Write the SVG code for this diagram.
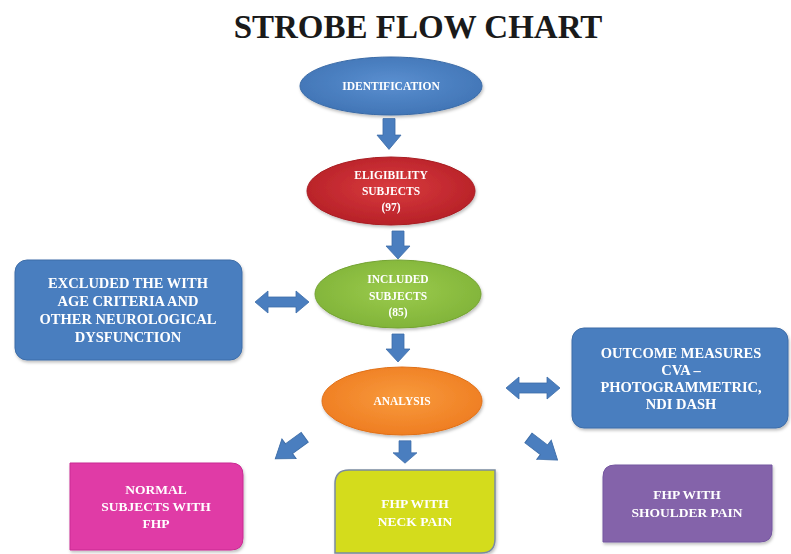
<svg xmlns="http://www.w3.org/2000/svg" width="791" height="554" viewBox="0 0 791 554">
<style>
.t{font-family:"Liberation Serif","Times New Roman",serif;font-weight:bold;fill:#fff;text-anchor:middle}
.s{font-size:11.5px}
.m{font-size:14.5px}
.b{font-size:13.5px}
.title{font-family:"Liberation Serif","Times New Roman",serif;font-weight:bold;font-size:33px;fill:#1a1a1a;text-anchor:middle}
.arr{fill:#4a7ebf;stroke:#3d6da8;stroke-width:0.8}
</style>
<defs>
<radialGradient id="gBlue" cx="50%" cy="45%" r="60%"><stop offset="0" stop-color="#5a8fd0"/><stop offset="1" stop-color="#3f73b4"/></radialGradient>
<radialGradient id="gRed" cx="50%" cy="45%" r="60%"><stop offset="0" stop-color="#d93a3e"/><stop offset="1" stop-color="#b41f26"/></radialGradient>
<radialGradient id="gGreen" cx="50%" cy="45%" r="60%"><stop offset="0" stop-color="#9bcb4c"/><stop offset="1" stop-color="#7fb238"/></radialGradient>
<radialGradient id="gOrange" cx="50%" cy="45%" r="60%"><stop offset="0" stop-color="#f89a3c"/><stop offset="1" stop-color="#ee7b20"/></radialGradient>
<filter id="sh" x="-10%" y="-10%" width="125%" height="130%"><feDropShadow dx="1" dy="2" stdDeviation="1.5" flood-color="#000" flood-opacity="0.25"/></filter>
<path id="down" d="M-6,-14 H6 V1 H12 L0,14 L-12,1 H-6 Z"/>
<path id="both" d="M-27,0 L-14,-11 V-5 H14 V-11 L27,0 L14,11 V5 H-14 V11 Z"/>
</defs>
<rect width="791" height="554" fill="#fff"/>
<text class="title" x="418" y="38">STROBE FLOW CHART</text>

<g id="identification" filter="url(#sh)">
<ellipse cx="391" cy="86" rx="91" ry="29" fill="url(#gBlue)" stroke="#3a6aa6" stroke-width="1"/>
<text class="t s" x="391" y="90">IDENTIFICATION</text>
</g>
<g id="eligibility" filter="url(#sh)">
<ellipse cx="391" cy="191" rx="84" ry="34" fill="url(#gRed)" stroke="#a81c22" stroke-width="1"/>
<text class="t s" x="391" y="179">ELIGIBILITY</text>
<text class="t s" x="391" y="195">SUBJECTS</text>
<text class="t s" x="391" y="211">(97)</text>
</g>
<g id="included" filter="url(#sh)">
<ellipse cx="398" cy="294" rx="83" ry="34" fill="url(#gGreen)" stroke="#74a332" stroke-width="1"/>
<text class="t s" x="398" y="283">INCLUDED</text>
<text class="t s" x="398" y="300">SUBJECTS</text>
<text class="t s" x="398" y="316">(85)</text>
</g>
<g id="analysis" filter="url(#sh)">
<ellipse cx="402" cy="401" rx="80" ry="34" fill="url(#gOrange)" stroke="#e07018" stroke-width="1"/>
<text class="t s" x="402" y="405">ANALYSIS</text>
</g>
<g id="excluded" filter="url(#sh)">
<rect x="15" y="260" width="227" height="100" rx="12" fill="#4a7ebf" stroke="#3d6da8"/>
<text class="t m" x="128" y="288">EXCLUDED THE WITH</text>
<text class="t m" x="128" y="306">AGE CRITERIA AND</text>
<text class="t m" x="128" y="324">OTHER NEUROLOGICAL</text>
<text class="t m" x="128" y="342">DYSFUNCTION</text>
</g>
<g id="outcome" filter="url(#sh)">
<rect x="572" y="328" width="216" height="100" rx="12" fill="#4a7ebf" stroke="#3d6da8"/>
<text class="t m" x="681" y="358">OUTCOME MEASURES</text>
<text class="t m" x="681" y="375">CVA –</text>
<text class="t m" x="681" y="392">PHOTOGRAMMETRIC,</text>
<text class="t m" x="681" y="409">NDI DASH</text>
</g>
<g id="normal" filter="url(#sh)">
<path d="M70,463 H231 Q243,463 243,475 V538 Q243,550 231,550 H70 Z" fill="#e03ba6" stroke="#c92c93"/>
<text class="t b" x="156" y="494">NORMAL</text>
<text class="t b" x="156" y="511">SUBJECTS WITH</text>
<text class="t b" x="156" y="528">FHP</text>
</g>
<g id="neck" filter="url(#sh)">
<path d="M349,470 H495 V539 Q495,553 481,553 H335 V484 Q335,470 349,470 Z" fill="#d4dc1e" stroke="#7a8aa0" stroke-width="1.5"/>
<text class="t b" x="415" y="508">FHP WITH</text>
<text class="t b" x="415" y="526">NECK PAIN</text>
</g>
<g id="shoulder" filter="url(#sh)">
<path d="M615,465 H772 V530 Q772,542 760,542 H603 V477 Q603,465 615,465 Z" fill="#8464aa" stroke="#7556a0"/>
<text class="t b" x="687" y="499">FHP WITH</text>
<text class="t b" x="687" y="517">SHOULDER PAIN</text>
</g>

<g id="connectors">
<use href="#down" class="arr" transform="translate(389,134) scale(1,1.1)"/>
<use href="#down" class="arr" transform="translate(398,245)"/>
<use href="#down" class="arr" transform="translate(398,348)"/>
<use href="#down" class="arr" transform="translate(405,452) scale(1,0.8)"/>
<use href="#down" class="arr" transform="translate(290,448) rotate(54) scale(1,1.3)"/>
<use href="#down" class="arr" transform="translate(543,449) rotate(-53) scale(1,1.3)"/>
<use href="#both" class="arr" transform="translate(282,302)"/>
<use href="#both" class="arr" transform="translate(533,388)"/>
</g>
</svg>
